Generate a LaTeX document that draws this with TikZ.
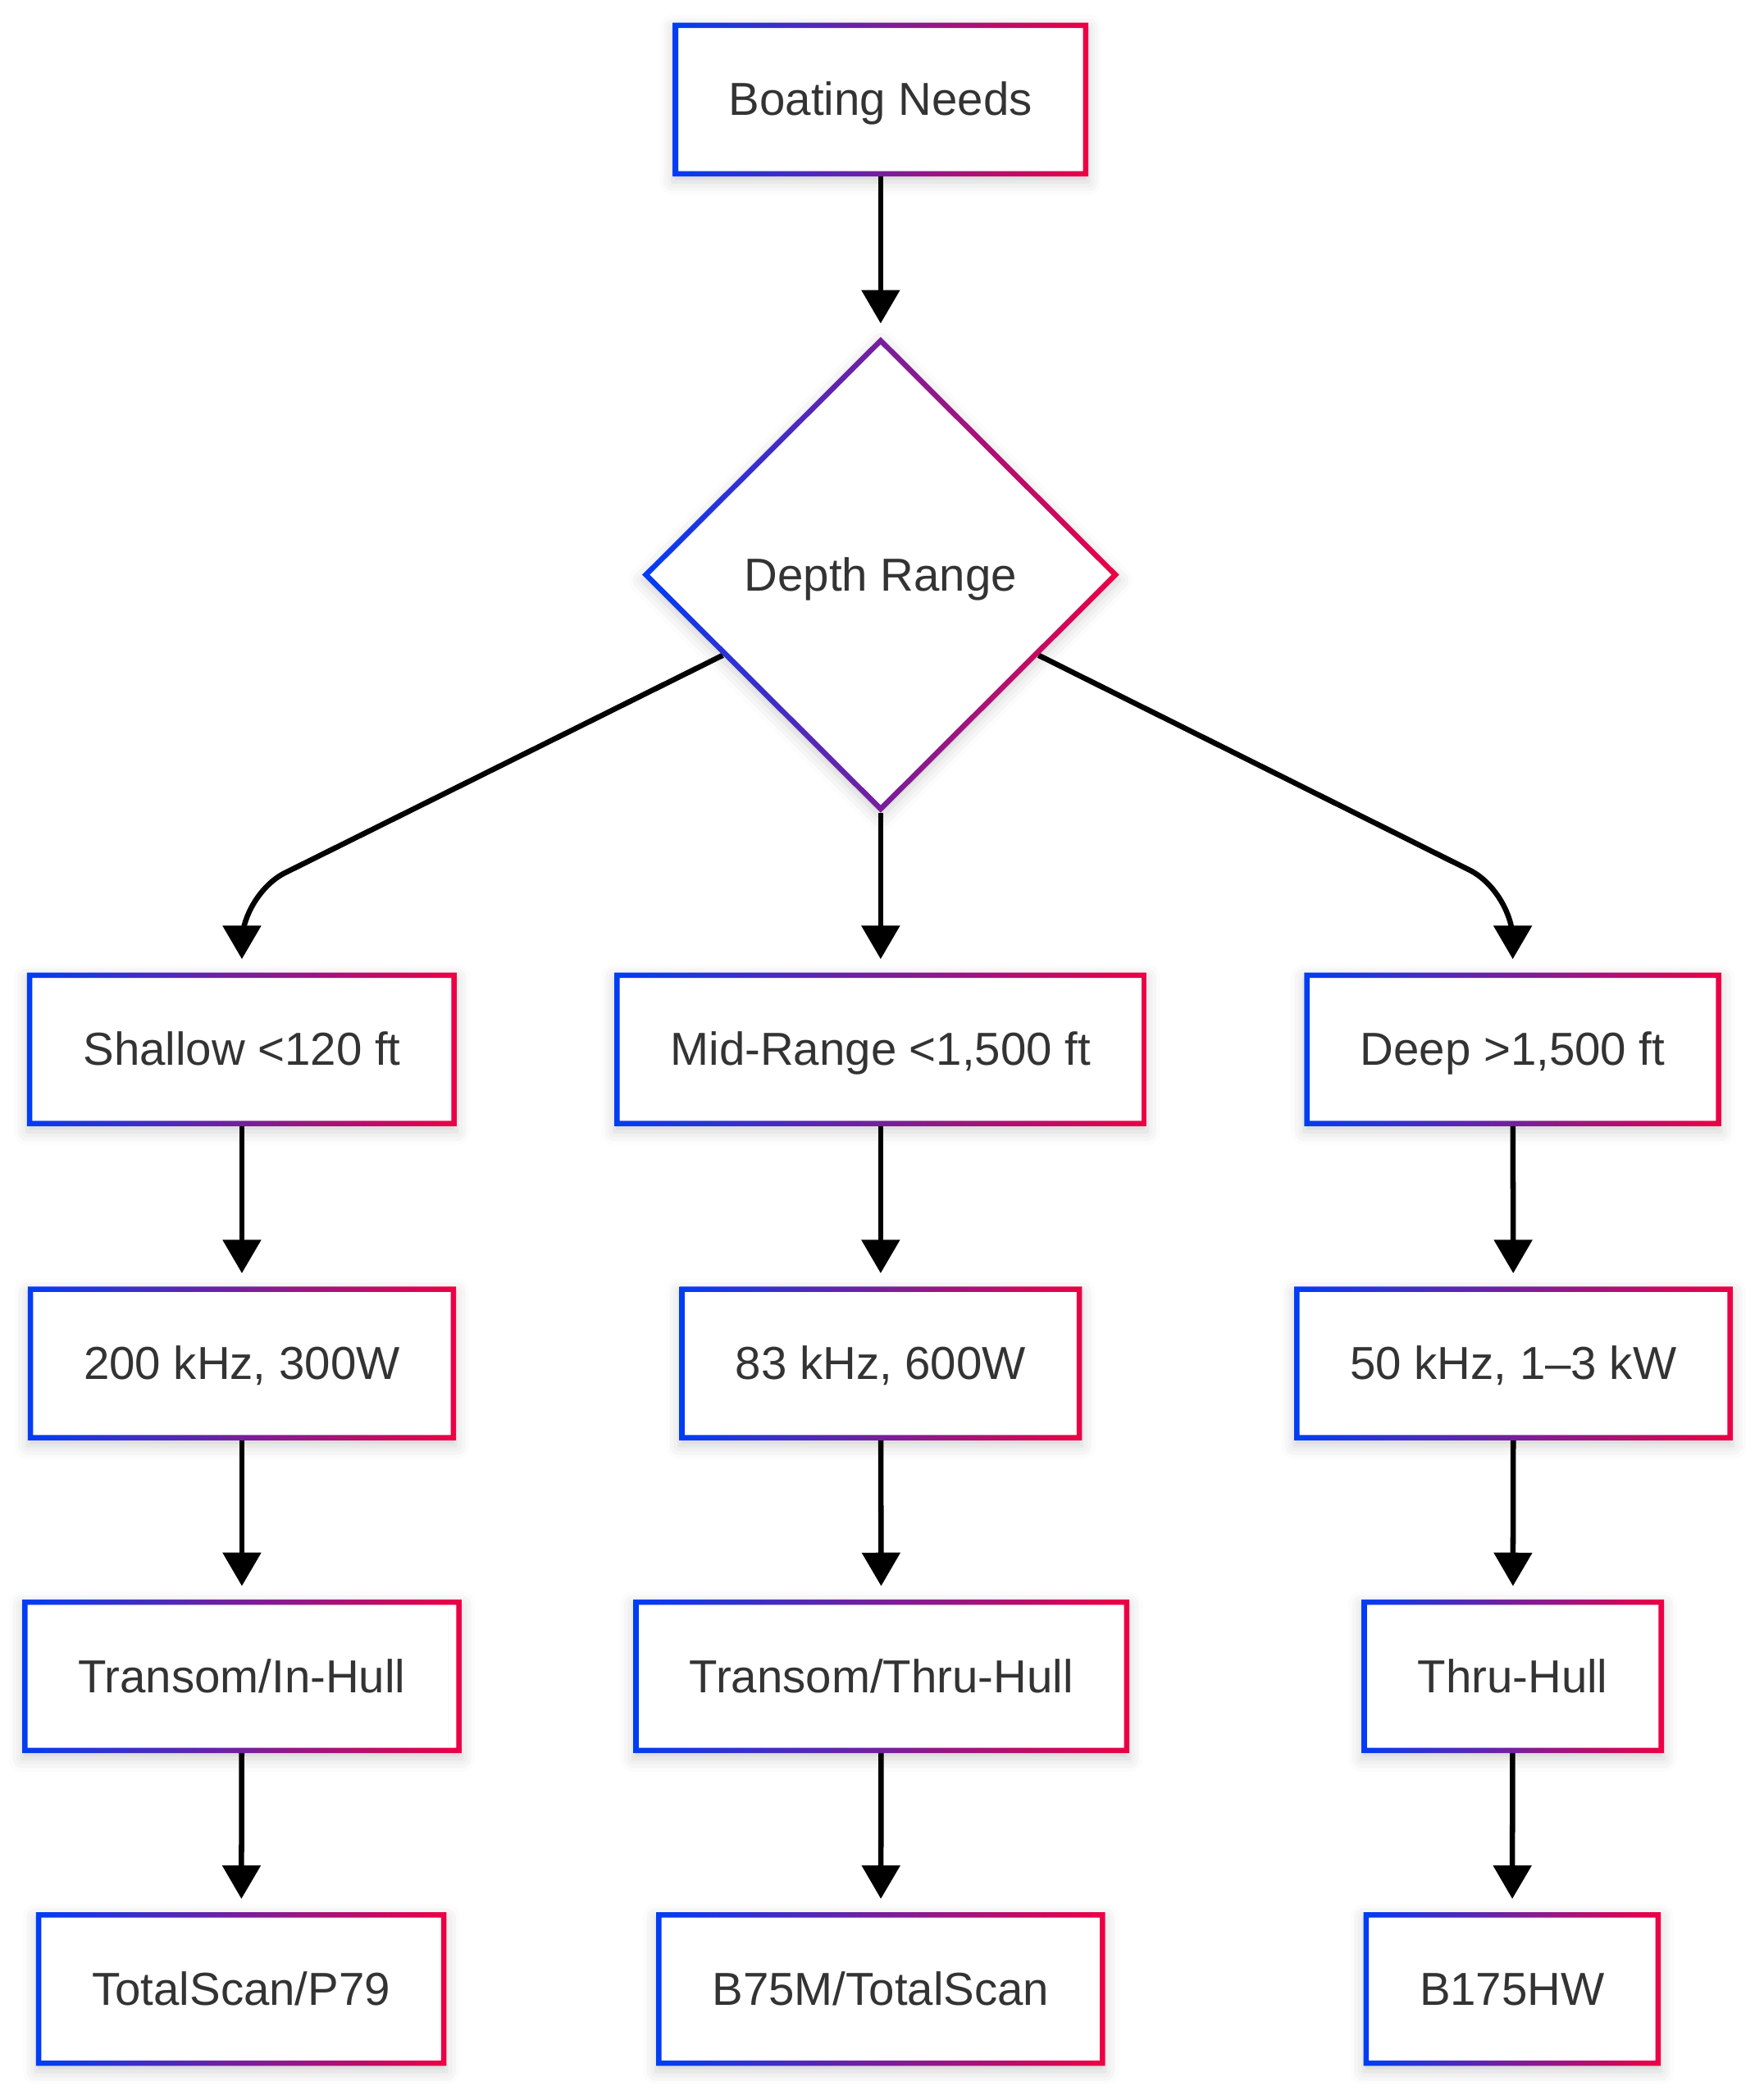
\documentclass[tikz,border=0pt]{standalone}
\usepackage{fontspec}
\setmainfont{Liberation Sans}
\usetikzlibrary{arrows.meta,shapes.geometric,shadows.blur}
\definecolor{flowblue}{RGB}{0,61,245}
\definecolor{flowred}{RGB}{237,0,68}
\definecolor{textgray}{RGB}{51,51,51}

\begin{document}
\begin{tikzpicture}[x=0.5pt,y=-0.5pt,>={Triangle[length=12.5pt,width=14pt]},
      line width=2pt,
      main node/.style={rectangle,fill=white,inner xsep=21pt,inner ysep=0pt,
        minimum height=57.5pt,outer sep=0pt,text=textgray,
        font=\fontsize{17.3}{20}\selectfont,text height=14pt,text depth=2pt,
        blur shadow={shadow xshift=0pt,shadow yshift=-2pt,
          shadow blur radius=5pt,shadow opacity=18}},
      decision/.style={main node,diamond,aspect=1,inner sep=0pt,
        minimum width=178.5pt,minimum height=178pt},
      link/.style={->,shorten >=5pt}]
    \useasboundingbox (0,0) rectangle (1320,1571);

    % top of the tree
    \node[main node] (needs) at (659,74.5) {Boating Needs};
    \node[decision] (depth) at (659,430) {Depth Range};

    % depth classes
    \node[main node] (shallow) at (181,785) {Shallow \textless120 ft};
    \node[main node] (midrange) at (659,785) {Mid-Range \textless1,500 ft};
    \node[main node] (deep) at (1132,785) {Deep \textgreater1,500 ft};

    % frequency and power
    \node[main node] (freqS) at (181,1020) {200 kHz, 300W};
    \node[main node] (freqM) at (659,1020) {83 kHz, 600W};
    \node[main node] (freqD) at (1132.5,1020) {50 kHz, 1–3 kW};

    % mounting
    \node[main node] (mountS) at (181,1254) {Transom/In-Hull};
    \node[main node] (mountM) at (659.5,1254) {Transom/Thru-Hull};
    \node[main node] (mountD) at (1132,1254) {Thru-Hull};

    % models
    \node[main node] (modelS) at (180.5,1488) {TotalScan/P79};
    \node[main node] (modelM) at (659,1488) {B75M/TotalScan};
    \node[main node] (modelD) at (1131.5,1488) {B175HW};

    \coordinate (bendS) at (181,669);
    \coordinate (bendD) at (1132,667);

    \path[link]
    (needs)    edge (depth)
    (depth)    edge (midrange)
    (shallow)  edge (freqS)
    (midrange) edge (freqM)
    (deep)     edge (freqD)
    (freqS)    edge (mountS)
    (freqM)    edge (mountM)
    (freqD)    edge (mountD)
    (mountS)   edge (modelS)
    (mountM)   edge (modelM)
    (mountD)   edge (modelD);
    \draw[link,rounded corners=18pt] (depth.207) -- (bendS) -- (shallow);
    \draw[link,rounded corners=18pt] (depth.333) -- (bendD) -- (deep);

    % gradient borders
    \foreach \n in {needs,shallow,midrange,deep,freqS,freqM,freqD,
                    mountS,mountM,mountD,modelS,modelM,modelD}
      \shade[left color=flowblue,right color=flowred,even odd rule]
        (\n.north west) rectangle (\n.south east)
        ([shift={(4,4)}]\n.north west) rectangle ([shift={(-4,-4)}]\n.south east);
    \shade[left color=flowblue,right color=flowred,even odd rule]
      (depth.north) -- (depth.east) -- (depth.south) -- (depth.west) -- cycle
      ([yshift=-2.83pt]depth.north) -- ([xshift=-2.83pt]depth.east)
      -- ([yshift=2.83pt]depth.south) -- ([xshift=2.83pt]depth.west) -- cycle;
  \end{tikzpicture}
\end{document}
